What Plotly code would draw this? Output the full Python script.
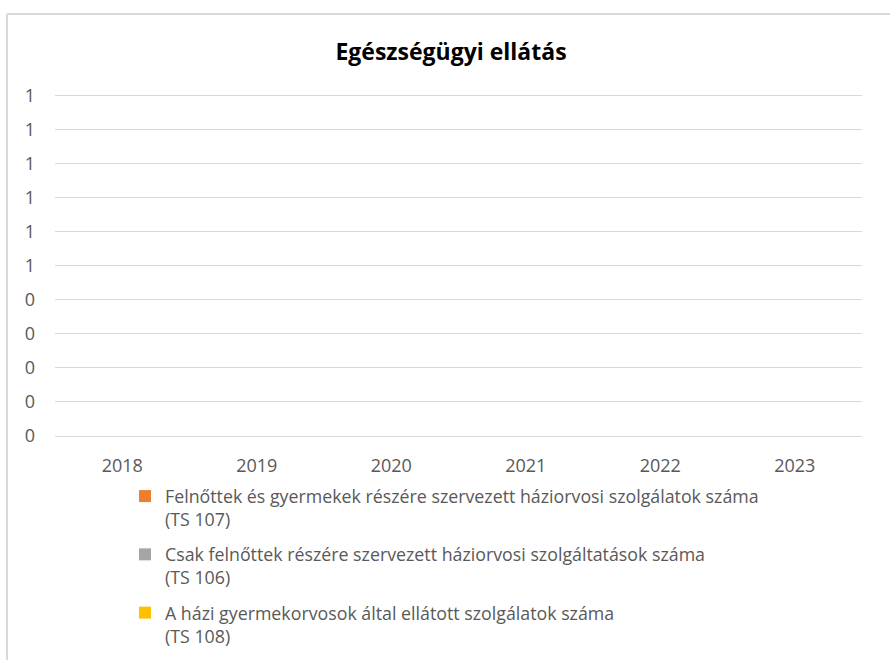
import plotly.graph_objects as go

years = ["2018", "2019", "2020", "2021", "2022", "2023"]
series_names = [
    "Felnőttek és gyermekek részére szervezett háziorvosi szolgálatok száma<br>(TS 107)",
    "Csak felnőttek részére szervezett háziorvosi szolgáltatások száma<br>(TS 106)",
    "A házi gyermekorvosok által ellátott szolgálatok száma<br>(TS 108)",
]
ts107 = [0, 0, 0, 0, 0, 0]
ts106 = [0, 0, 0, 0, 0, 0]
ts108 = [0, 0, 0, 0, 0, 0]
y_tick_values = [0, 0.1, 0.2, 0.3, 0.4, 0.5, 0.6, 0.7, 0.8, 0.9, 1.0]
y_tick_labels = ["0", "0", "0", "0", "0", "1", "1", "1", "1", "1", "1"]

colors = ["#ED7D31", "#A5A5A5", "#FFC000"]
FONT = "Open Sans, Noto Sans, Liberation Sans, sans-serif"
TXT = "#595959"

fig = go.Figure()
for i, (name, vals) in enumerate(zip(series_names, [ts107, ts106, ts108])):
    fig.add_trace(go.Bar(x=years, y=vals, name=name, legendgroup=f"g{i}",
                         marker=dict(color=colors[i], line=dict(width=0))))

W, H = 890, 660
L, R, T, B = 55, 28, 89, 224
pw, ph = W - L - R, H - T - B
YMAX = 1.02

def px2x(px):
    return (px - L) / pw

def py2y(py):
    return (H - B - py) / (ph / YMAX) / YMAX

fig.update_layout(
    width=W, height=H,
    margin=dict(l=L, r=R, t=T, b=B, autoexpand=False),
    paper_bgcolor="white", plot_bgcolor="white",
    font=dict(family=FONT, color=TXT, size=16),
    title=dict(text="<b>Egészségügyi ellátás</b>", x=451 / W, xanchor="center",
               y=1 - 52 / H, yanchor="middle",
               font=dict(family=FONT, size=23, color="#000000")),
    barmode="group",
    showlegend=True,
    legend=dict(x=px2x(125), y=py2y(478), xanchor="left", yanchor="top",
                orientation="v", tracegroupgap=9, itemwidth=30, valign="top",
                font=dict(family=FONT, size=17.8, color=TXT),
                bgcolor="rgba(0,0,0,0)"),
    xaxis=dict(showgrid=False, showline=True, linecolor="#D9D9D9", linewidth=1,
               ticks="", tickfont=dict(family=FONT, size=18, color=TXT),
               ticklabelstandoff=13, zeroline=False),
    yaxis=dict(range=[0, YMAX], tickvals=y_tick_values, ticktext=y_tick_labels,
               showgrid=True, gridcolor="#D9D9D9", gridwidth=1, zeroline=False,
               showline=False, ticks="", ticklabelstandoff=19,
               tickfont=dict(family=FONT, size=18, color=TXT)),
    shapes=[
        dict(type="line", xref="paper", yref="paper", x0=px2x(7), x1=px2x(895),
             y0=py2y(14), y1=py2y(14), line=dict(color="#D9D9D9", width=2)),
        dict(type="line", xref="paper", yref="paper", x0=px2x(7), x1=px2x(7),
             y0=py2y(14), y1=py2y(665), line=dict(color="#D9D9D9", width=2)),
    ],
)

fig.write_html("out.html", config={"displayModeBar": False},
               post_script="document.body.style.margin='0px';")
